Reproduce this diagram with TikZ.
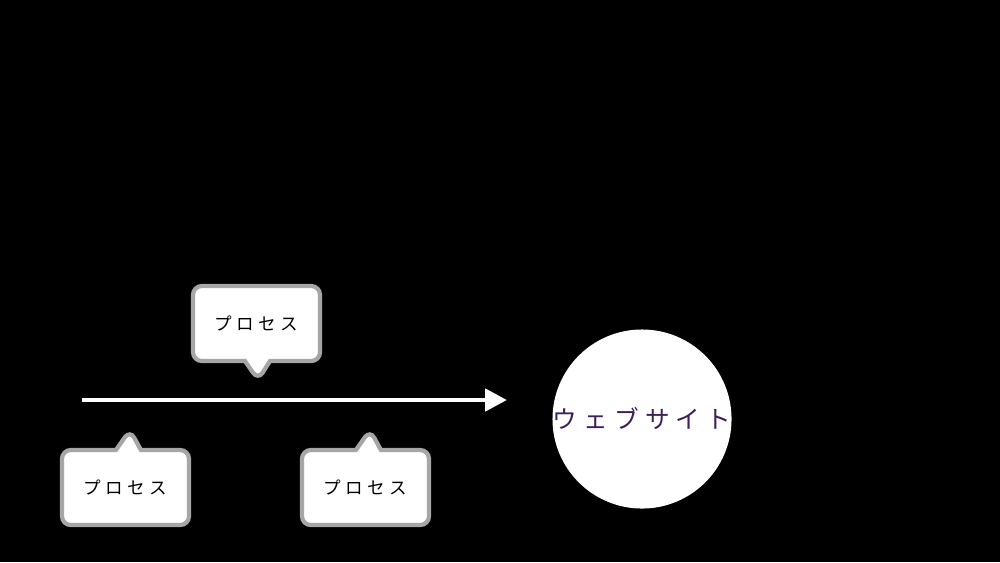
\documentclass[tikz,border=0pt]{standalone}
\usepackage{fontspec}
\newfontfamily\jpfont[LetterSpace=25]{Noto Sans CJK JP}
\usetikzlibrary{shapes.callouts,arrows.meta}
\definecolor{sitepurple}{HTML}{3C1E5A}

\begin{document}
\begin{tikzpicture}[
    process/.style={rectangle callout, fill=white, draw=gray!70, line width=1.2pt,
      rounded corners=2.5pt, minimum width=1.27cm, minimum height=0.75cm,
      inner sep=0pt, font=\jpfont\fontsize{5pt}{6pt}\selectfont},
    flow/.style={white, line width=1.4pt, -{Triangle[length=2.2mm,width=2.2mm]}}]
    \fill[black] (0,0) rectangle (10,5.62);
    \useasboundingbox (0,0) rectangle (10,5.62);

    \coordinate (start) at (0.82,1.62);
    \coordinate (stop) at (5.07,1.62);
    \draw[flow] (start) -- (stop);

    \node[process, callout absolute pointer={(2.58,1.82)}] (p1) at (2.565,2.385) {プロセス};
    \node[process, callout absolute pointer={(1.30,1.32)}] (p2) at (1.255,0.745) {プロセス};
    \node[process, callout absolute pointer={(3.70,1.32)}] (p3) at (3.655,0.745) {プロセス};

    \node[circle, fill=white, minimum size=1.78cm, inner sep=0pt, text=sitepurple,
      font=\jpfont\fontsize{7pt}{8pt}\selectfont] (web) at (6.42,1.43) {ウェブサイト};
\end{tikzpicture}
\end{document}
